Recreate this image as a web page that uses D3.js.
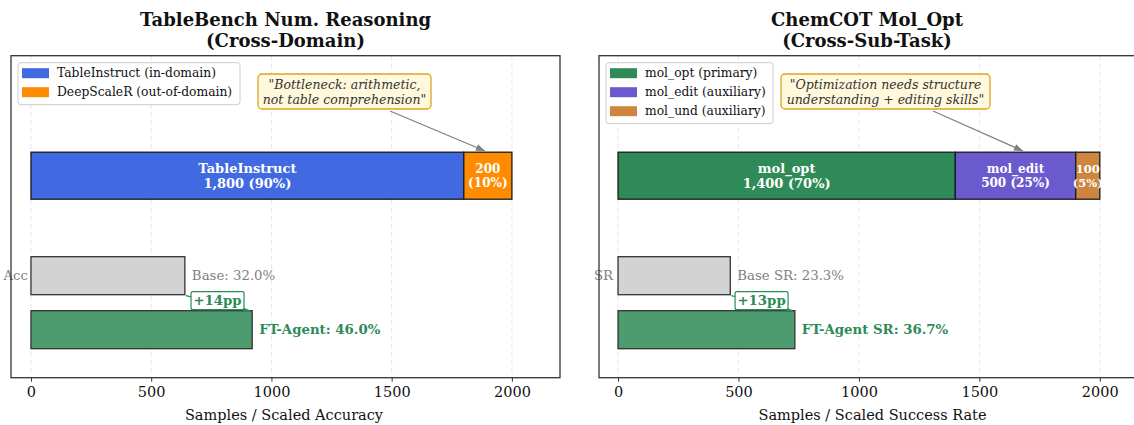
<!DOCTYPE html>
<html>
<head>
<meta charset="utf-8">
<script src="https://cdn.jsdelivr.net/npm/d3@7"></script>
<style>
  html, body { margin: 0; padding: 0; background: #fff; }
  svg { display: block; font-family: "DejaVu Serif", serif; }
</style>
</head>
<body>
<svg id="chart" width="1134" height="425"></svg>
<script>
// ---------- DATA ----------
const xTicks = [0, 500, 1000, 1500, 2000];

// Left panel: TableBench
const leftTitle = ["TableBench Num. Reasoning", "(Cross-Domain)"];
const leftSeries = ["TableInstruct (in-domain)", "DeepScaleR (out-of-domain)"];
const leftSegNames = ["TableInstruct", ""];
const leftSamples = [1800, 200];
const leftPct = [90, 10];
const leftBase = 32.0;
const leftFT = 46.0;
const leftGain = "+14pp";
const leftBaseLabel = "Base: 32.0%";
const leftFTLabel = "FT-Agent: 46.0%";
const leftCutLabel = "Acc";
const leftXLabel = "Samples / Scaled Accuracy";
const leftNote = ["\"Bottleneck: arithmetic,", "not table comprehension\""];

// Right panel: ChemCOT
const rightTitle = ["ChemCOT Mol_Opt", "(Cross-Sub-Task)"];
const rightSeries = ["mol_opt (primary)", "mol_edit (auxiliary)", "mol_und (auxiliary)"];
const rightSegNames = ["mol_opt", "mol_edit", ""];
const rightSamples = [1400, 500, 100];
const rightPct = [70, 25, 5];
const rightBase = 23.3;
const rightFT = 36.7;
const rightGain = "+13pp";
const rightBaseLabel = "Base SR: 23.3%";
const rightFTLabel = "FT-Agent SR: 36.7%";
const rightCutLabel = "SR";
const rightXLabel = "Samples / Scaled Success Rate";
const rightNote = ["\"Optimization needs structure", "understanding + editing skills\""];

const scaleFactor = 20; // percent -> scaled units

// ---------- STYLE / LAYOUT ----------
const leftColors = ["#4169e1", "#ff8c00"];
const rightColors = ["#2e8b57", "#6a5acd", "#cd853f"];
const ftColor = "#2e8b57";

const svg = d3.select("#chart");
svg.append("rect").attr("width", 1134).attr("height", 425).attr("fill", "#fff");

function fmt(n) { return d3.format(",")(n); }

function drawPanel(cfg) {
  const g = svg.append("g");
  const x = d3.scaleLinear().domain(cfg.xlim).range([cfg.left, cfg.right]);
  const y = d3.scaleLinear().domain([-0.02, 3.2]).range([377.7, 55.7]);
  const top = y(3.2), bottom = y(-0.02);

  // grid
  g.append("g").selectAll("line").data(xTicks).join("line")
    .attr("x1", d => x(d)).attr("x2", d => x(d))
    .attr("y1", top).attr("y2", bottom)
    .attr("stroke", "#b0b0b0").attr("stroke-opacity", 0.3)
    .attr("stroke-dasharray", "5,3").attr("stroke-width", 1);

  // stacked bar
  const stackY = 2.0, stackH = 0.47;
  let cum = 0;
  const segs = cfg.samples.map((v, i) => { const s = { x0: cum, x1: cum + v, v, i }; cum += v; return s; });
  g.append("g").selectAll("rect").data(segs).join("rect")
    .attr("x", d => x(d.x0)).attr("width", d => x(d.x1) - x(d.x0))
    .attr("y", y(stackY + stackH / 2)).attr("height", y(stackY - stackH / 2) - y(stackY + stackH / 2))
    .attr("fill", d => cfg.colors[d.i]).attr("stroke", "#1a1a1a").attr("stroke-width", 1.3);

  // segment labels
  segs.forEach(d => {
    const cx = (x(d.x0) + x(d.x1)) / 2;
    const big = d.v >= 1000;
    const fs = big ? 13 : (d.v >= 150 ? 12 : 11.5);
    const lines = cfg.segNames[d.i]
      ? [cfg.segNames[d.i], fmt(d.v) + " (" + cfg.pct[d.i] + "%)"]
      : [fmt(d.v), "(" + cfg.pct[d.i] + "%)"];
    const cy = y(stackY);
    const t = g.append("text").attr("text-anchor", "middle").attr("fill", "#fff")
      .attr("font-weight", "bold").attr("font-size", fs);
    const lh = big ? 15 : 14;
    lines.forEach((ln, k) => {
      t.append("tspan").attr("x", cx).attr("y", cy + (k - 0.5) * lh + fs * 0.35).text(ln);
    });
  });

  // base bar
  const baseY = 1.0, barH = 0.38, ftY = 0.46;
  const baseV = cfg.base * scaleFactor, ftV = cfg.ft * scaleFactor;
  g.append("rect").attr("x", x(0)).attr("width", x(baseV) - x(0))
    .attr("y", y(baseY + barH / 2)).attr("height", y(baseY - barH / 2) - y(baseY + barH / 2))
    .attr("fill", "#d3d3d3").attr("stroke", "#333").attr("stroke-width", 1.3);
  g.append("text").attr("x", x(baseV) + 7).attr("y", y(baseY) + 4.7)
    .attr("font-size", 13.3).attr("fill", "#808080").text(cfg.baseLabel);

  // FT bar
  g.append("rect").attr("x", x(0)).attr("width", x(ftV) - x(0))
    .attr("y", y(ftY + barH / 2)).attr("height", y(ftY - barH / 2) - y(ftY + barH / 2))
    .attr("fill", ftColor).attr("fill-opacity", 0.85).attr("stroke", "#333").attr("stroke-width", 1.3);
  g.append("text").attr("x", x(ftV) + 7).attr("y", y(ftY) + 4.7)
    .attr("font-size", 13.3).attr("font-weight", "bold").attr("fill", ftColor).text(cfg.ftLabel);

  // cut-off label at left
  g.append("text").attr("x", cfg.cutX).attr("y", y(baseY) + 4.7)
    .attr("text-anchor", "end").attr("font-size", 13.3).attr("fill", "#808080").text(cfg.cutLabel);

  // gain arrow + box
  const ax0 = x(baseV) + 1, ay0 = y(baseY - barH / 2) + 1;
  const ax1 = x(ftV) - 3, ay1 = y(ftY + barH / 2);
  g.append("line").attr("x1", ax0).attr("y1", ay0).attr("x2", ax1).attr("y2", ay1)
    .attr("stroke", ftColor).attr("stroke-width", 1.3);
  g.append("path").attr("d", `M${ax1 - 5},${ay1 - 3} L${ax1 + 1},${ay1} L${ax1 - 6},${ay1 + 0.5} Z`)
    .attr("fill", ftColor);
  const gx = (ax0 + ax1) / 2, gy = (ay0 + ay1) / 2 - 2.5;
  g.append("rect").attr("x", gx - 26.5).attr("y", gy - 9).attr("width", 53).attr("height", 18)
    .attr("rx", 2).attr("fill", "#fff").attr("stroke", ftColor).attr("stroke-width", 1.2);
  g.append("text").attr("x", gx).attr("y", gy + 4.7).attr("text-anchor", "middle")
    .attr("font-size", 13.3).attr("font-weight", "bold").attr("fill", ftColor).text(cfg.gain);

  // annotation note
  const nb = cfg.noteBox;
  g.append("line").attr("x1", nb.ax0).attr("y1", nb.ay0).attr("x2", nb.ax1).attr("y2", nb.ay1)
    .attr("stroke", "#808080").attr("stroke-width", 1.2);
  const ang = Math.atan2(nb.ay1 - nb.ay0, nb.ax1 - nb.ax0);
  const hl = 9, hw = 3.5;
  const bx = nb.ax1 - hl * Math.cos(ang), by = nb.ay1 - hl * Math.sin(ang);
  g.append("path").attr("d",
    `M${nb.ax1},${nb.ay1} L${bx - hw * Math.sin(ang)},${by + hw * Math.cos(ang)} L${bx + hw * Math.sin(ang)},${by - hw * Math.cos(ang)} Z`)
    .attr("fill", "#808080");
  g.append("rect").attr("x", nb.x).attr("y", nb.y).attr("width", nb.w).attr("height", nb.h)
    .attr("rx", 4).attr("fill", "#fff8dc").attr("stroke", "#daa520").attr("stroke-width", 1.3);
  const nt = g.append("text").attr("text-anchor", "middle").attr("font-size", 12.5)
    .attr("font-style", "italic").attr("fill", "#333");
  cfg.note.forEach((ln, k) => {
    nt.append("tspan").attr("x", nb.x + nb.w / 2).attr("y", nb.y + 15 + k * 15).text(ln);
  });

  // legend
  const lg = g.append("g");
  const lgH = cfg.series.length * 19 + 4;
  lg.append("rect").attr("x", cfg.left + 7).attr("y", top + 7).attr("width", cfg.legendW).attr("height", lgH)
    .attr("rx", 3).attr("fill", "#fff").attr("fill-opacity", 0.8).attr("stroke", "#ccc").attr("stroke-width", 1);
  cfg.series.forEach((s, i) => {
    const ry = top + 17.5 + i * 19;
    lg.append("rect").attr("x", cfg.left + 11).attr("y", ry - 5).attr("width", 27).attr("height", 10)
      .attr("fill", cfg.colors[i]);
    lg.append("text").attr("x", cfg.left + 46).attr("y", ry + 4).attr("font-size", 12.3).attr("fill", "#111").text(s);
  });

  // frame
  g.append("rect").attr("x", cfg.left).attr("y", top).attr("width", cfg.right - cfg.left).attr("height", bottom - top)
    .attr("fill", "none").attr("stroke", "#333").attr("stroke-width", 1.3);

  // x axis
  const xa = g.append("g").attr("transform", `translate(0,${bottom})`)
    .call(d3.axisBottom(x).tickValues(xTicks).tickSize(4).tickPadding(5).tickFormat(d3.format("d")));
  xa.select(".domain").remove();
  xa.selectAll("text").attr("font-family", "DejaVu Serif").attr("font-size", 14.5).attr("fill", "#111");
  xa.selectAll("line").attr("stroke", "#333");

  g.append("text").attr("x", cfg.xLabelX).attr("y", 420)
    .attr("text-anchor", "middle").attr("font-size", 14.5).attr("fill", "#111").text(cfg.xLabel);

  // title
  const tt = g.append("text").attr("text-anchor", "middle").attr("font-size", 18)
    .attr("font-weight", "bold").attr("fill", "#111");
  cfg.title.forEach((ln, k) => {
    tt.append("tspan").attr("x", cfg.titleX).attr("y", 26 + k * 21).text(ln);
  });
}

drawPanel({
  id: "L", left: 11, right: 560, xlim: [-83, 2200],
  samples: leftSamples, pct: leftPct, segNames: leftSegNames, colors: leftColors,
  series: leftSeries, base: leftBase, ft: leftFT, gain: leftGain,
  baseLabel: leftBaseLabel, ftLabel: leftFTLabel, cutLabel: leftCutLabel, cutX: 28,
  xLabel: leftXLabel, xLabelX: 284, title: leftTitle, titleX: 285.5, legendW: 222,
  note: leftNote,
  noteBox: { x: 258, y: 74, w: 173, h: 35, ax0: 390, ay0: 111, ax1: 485, ay1: 151 }
});

drawPanel({
  id: "R", left: 599, right: 1148, xlim: [-79, 2200],
  samples: rightSamples, pct: rightPct, segNames: rightSegNames, colors: rightColors,
  series: rightSeries, base: rightBase, ft: rightFT, gain: rightGain,
  baseLabel: rightBaseLabel, ftLabel: rightFTLabel, cutLabel: rightCutLabel, cutX: 613,
  xLabel: rightXLabel, xLabelX: 872.5, title: rightTitle, titleX: 867, legendW: 167,
  note: rightNote,
  noteBox: { x: 781, y: 74, w: 209, h: 35, ax0: 933, ay0: 111, ax1: 1023, ay1: 151 }
});
</script>
</body>
</html>
